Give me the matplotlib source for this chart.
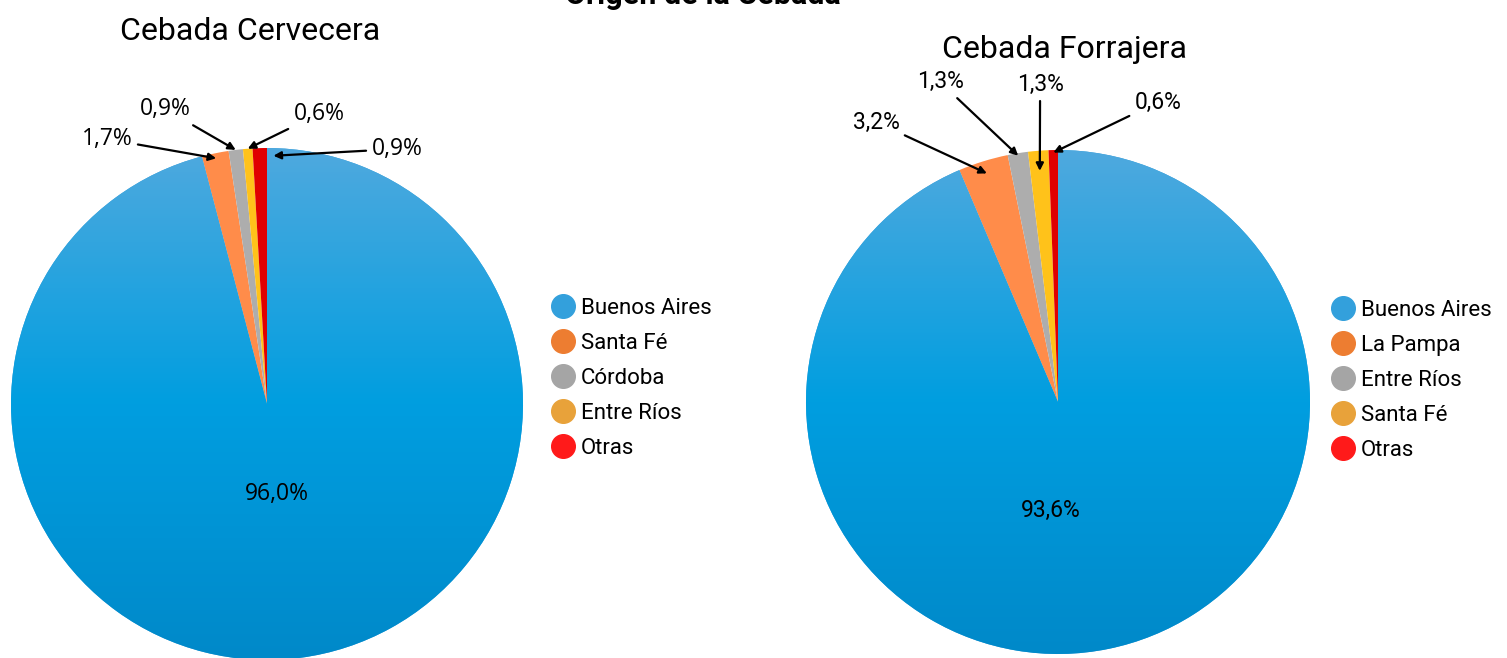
import matplotlib

matplotlib.use("Agg")
import matplotlib.pyplot as plt  # noqa: E402
import numpy as np  # noqa: E402
from matplotlib.colors import LinearSegmentedColormap  # noqa: E402
from matplotlib.lines import Line2D  # noqa: E402

TITLE = "Origen de la Cebada"

# left chart
cerv_title = "Cebada Cervecera"
cerv_labels = ["Buenos Aires", "Santa Fé", "Córdoba", "Entre Ríos", "Otras"]
cerv_values = [96.0, 1.7, 0.9, 0.6, 0.9]

# right chart
forr_title = "Cebada Forrajera"
forr_labels = ["Buenos Aires", "La Pampa", "Entre Ríos", "Santa Fé", "Otras"]
forr_values = [93.6, 3.2, 1.3, 1.3, 0.6]

SLICE_COLORS = ["#3aa0dc", "#ff8c4a", "#adadad", "#ffc21a", "#e00000"]
LEGEND_COLORS = ["#33a0dc", "#ed7d31", "#a5a5a5", "#e8a23a", "#ff1a1a"]
BLUE_GRAD = LinearSegmentedColormap.from_list("blue", ["#0089c9", "#009ee0", "#4fa9de"])

W, H = 1507, 658
fig = plt.figure(figsize=(W / 100, H / 100), dpi=100)
fig.patch.set_facecolor("white")


def fmt(v):
    return f"{v:.1f}".replace(".", ",") + "%"


def draw_pie(ax_px, cx, cy, r, values, title, title_xy, label_pos, arrow_r, arrow_dang,
             big_pos, font, leg_labels, leg_xy):
    x0, x1 = ax_px
    ax = fig.add_axes([x0 / W, 0, (x1 - x0) / W, 1])
    wedges, _ = ax.pie(values, colors=SLICE_COLORS, startangle=90, counterclock=False,
                       wedgeprops=dict(linewidth=0))
    # gradient fill for the big slice
    grad = np.linspace(0, 1, 256).reshape(-1, 1)
    im = ax.imshow(grad, cmap=BLUE_GRAD, extent=(-1, 1, -1, 1), origin="lower",
                   aspect="auto", zorder=wedges[0].get_zorder() + 0.1)
    im.set_clip_path(wedges[0])
    ax.set_aspect("auto")
    ax.set_xlim((x0 - cx) / r, (x1 - cx) / r)
    ax.set_ylim((cy - H) / r, cy / r)
    ax.axis("off")

    # small-slice labels with arrows
    for i, w in enumerate(wedges[1:], start=1):
        ang = np.deg2rad((w.theta1 + w.theta2) / 2 + arrow_dang[i - 1])
        tgt = (arrow_r[i - 1] * np.cos(ang), arrow_r[i - 1] * np.sin(ang))
        ax.annotate(fmt(values[i]), xy=tgt, xytext=label_pos[i - 1], ha="center", va="center",
                    fontsize=16.5, family=font, zorder=5,
                    arrowprops=dict(arrowstyle="-|>", color="black", lw=1.6,
                                    mutation_scale=11, shrinkB=0))
    ax.text(big_pos[0], big_pos[1], fmt(values[0]), ha="center", va="center",
            fontsize=16.5, family=font, zorder=5)

    fig.text(title_xy[0] / W, 1 - title_xy[1] / H, title, ha="center", va="baseline",
             fontsize=23, family="Roboto")

    handles = [Line2D([], [], marker="o", linestyle="none", markersize=17,
                      markerfacecolor=c, markeredgecolor=c) for c in LEGEND_COLORS]
    fig.legend(handles, leg_labels, loc="upper left",
               bbox_to_anchor=(leg_xy[0] / W, 1 - leg_xy[1] / H), frameon=False,
               prop=dict(family="Roboto", size=16), handletextpad=0.05,
               labelspacing=0.63, borderpad=0, handlelength=1.5)


draw_pie((0, 540), 267, 404, 256, cerv_values, cerv_title, (250, 40),
         [(-0.625, 1.035), (-0.398, 1.152), (0.203, 1.133), (0.508, 0.996)],
         [0.98, 1.0, 1.0, 0.97], [0, 0, 0, -3.1],
         (0.039, -0.352), "Open Sans", cerv_labels, (535, 287))

draw_pie((790, 1320), 1058, 402, 252, forr_values, forr_title, (1064, 58),
         [(-0.722, 1.111), (-0.468, 1.270), (-0.071, 1.262), (0.397, 1.190)],
         [0.95, 0.99, 0.92, 0.99], [0, 0, 0, 0],
         (-0.028, -0.429), "Roboto", forr_labels, (1315, 289))

fig.text(703 / W, 1 - 4 / H, TITLE, ha="center", va="baseline", fontsize=22,
         fontweight="bold", family="Roboto")

fig.savefig("out.png", dpi=100)
